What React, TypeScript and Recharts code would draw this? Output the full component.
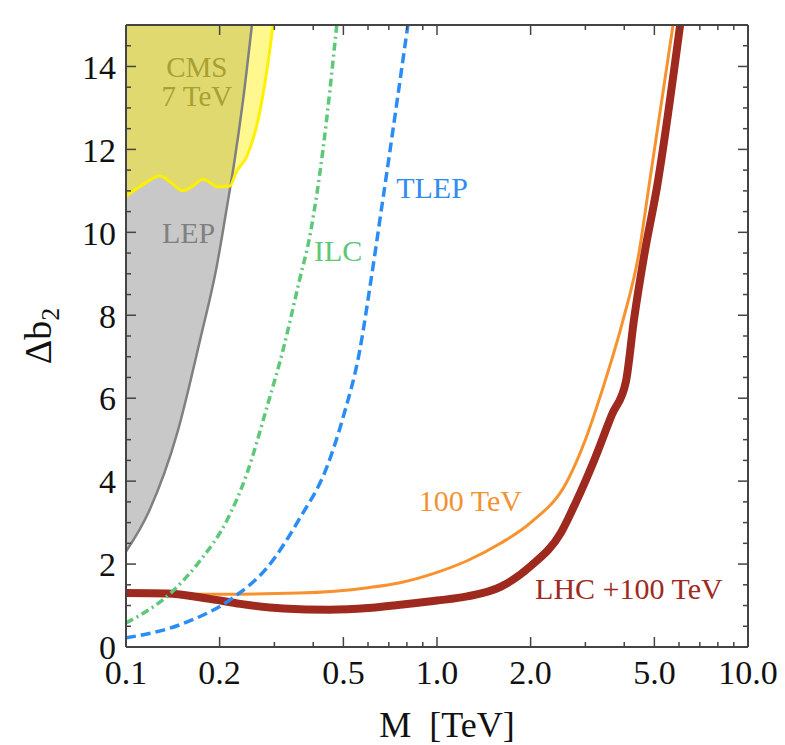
import React from "react"
import { ComposedChart, Line, Area, XAxis, YAxis, ReferenceDot } from "recharts"

const font = '"Liberation Serif", "DejaVu Serif", serif'

// axis ticks
const majorX = [0.1, 0.2, 0.5, 1, 2, 5, 10]
const minorX = [0.3, 0.4, 0.6, 0.7, 0.8, 0.9, 3, 4, 6, 7, 8, 9]
const majorY = [0, 2, 4, 6, 8, 10, 12, 14]
const minorY = [0.5, 1, 1.5, 2.5, 3, 3.5, 4.5, 5, 5.5, 6.5, 7, 7.5, 8.5, 9, 9.5, 10.5, 11, 11.5, 12.5, 13, 13.5, 14.5]

// LEP excluded region (boundary)
const lepM = [0.1, 0.119, 0.146, 0.173, 0.196, 0.211, 0.222, 0.238, 0.254]
const lepV = [2.3, 3.3, 5.15, 7.4, 9.2, 10.6, 11.6, 13.2, 15]

// CMS 7 TeV excluded region (boundary)
const cmsM = [0.1, 0.1134, 0.1286, 0.1395, 0.1524, 0.1642, 0.1768, 0.186, 0.196, 0.216, 0.226, 0.245, 0.27, 0.29, 0.297]
const cmsV = [10.87, 11.15, 11.36, 11.2, 11.0, 11.12, 11.28, 11.2, 11.1, 11.12, 11.45, 11.84, 12.95, 14.4, 15]

// ILC
const ilcM = [0.1, 0.142, 0.173, 0.211, 0.245, 0.284, 0.32, 0.36, 0.392, 0.43, 0.476]
const ilcV = [0.58, 1.36, 2.08, 3.05, 4.19, 5.79, 7.17, 8.8, 10.0, 12.0, 15]

// TLEP
const tlepM = [0.1, 0.152, 0.221, 0.284, 0.363, 0.442, 0.499, 0.565, 0.612, 0.67, 0.707, 0.806]
const tlepV = [0.22, 0.56, 1.19, 1.91, 3.12, 4.33, 5.54, 7.17, 8.8, 10.8, 12.0, 15]

// 100 TeV
const fccM = [0.1, 0.2, 0.36, 0.6, 0.76, 1.0, 1.25, 1.6, 2.0, 2.6, 3.0, 3.4, 3.97, 4.46, 4.8, 5.74]
const fccV = [1.28, 1.27, 1.3, 1.43, 1.55, 1.8, 2.08, 2.5, 3.0, 3.95, 5.0, 6.2, 7.9, 9.5, 11.1, 15]

// LHC + 100 TeV
const combM = [0.1, 0.135, 0.186, 0.233, 0.32, 0.45, 0.6, 0.76, 1.0, 1.25, 1.6, 2.0, 2.5, 2.8, 3.2, 3.65, 4.05, 4.3, 4.65, 5.1, 6.05]
const combV = [1.3, 1.29, 1.16, 1.04, 0.93, 0.9, 0.94, 1.02, 1.12, 1.22, 1.45, 1.95, 2.75, 3.5, 4.5, 5.6, 6.4, 7.9, 9.5, 11.1, 15]

const zip = (m: number[], v: number[]) => m.map((x, i) => ({ m: x, v: v[i] }))

const lepData = zip(lepM, lepV)
const cmsData = zip(cmsM, cmsV)
const ilcData = zip(ilcM, ilcV)
const tlepData = zip(tlepM, tlepV)
const fccData = zip(fccM, fccV)
const combData = zip(combM, combV)

const frame = "#444"

function BottomTick(props: any) {
  const { x, y, payload } = props
  const major = majorX.includes(payload.value)
  return (
    <g>
      <line x1={x} x2={x} y1={y} y2={y - (major ? 10 : 5)} stroke={frame} strokeWidth={1.5} />
      {major && (
        <text x={x} y={y + 37} textAnchor="middle" fontSize={34} fontFamily={font} fill="#111">
          {payload.value.toFixed(1)}
        </text>
      )}
    </g>
  )
}

function TopTick(props: any) {
  const { x, y, payload } = props
  const major = majorX.includes(payload.value)
  return <line x1={x} x2={x} y1={y} y2={y + (major ? 10 : 5)} stroke={frame} strokeWidth={1.5} />
}

function LeftTick(props: any) {
  const { x, y, payload } = props
  const major = majorY.includes(payload.value)
  return (
    <g>
      <line x1={x} x2={x + (major ? 10 : 5)} y1={y} y2={y} stroke={frame} strokeWidth={1.5} />
      {major && (
        <text x={x - 10} y={y} dy="0.36em" textAnchor="end" fontSize={34} fontFamily={font} fill="#111">
          {payload.value}
        </text>
      )}
    </g>
  )
}

function RightTick(props: any) {
  const { x, y, payload } = props
  const major = majorY.includes(payload.value)
  return <line x1={x} x2={x - (major ? 10 : 5)} y1={y} y2={y} stroke={frame} strokeWidth={1.5} />
}

// curve annotation, centred on its reference point
const tag = (text: string, fill: string, size = 30) => ({
  content: (p: any) => {
    const { x, y, width, height } = p.viewBox
    return (
      <text x={x + width / 2} y={y + height / 2} dy="0.35em" textAnchor="middle" fill={fill} fontSize={size} fontFamily={font}>
        {text}
      </text>
    )
  },
})

export default function App() {
  const xTicks = [...majorX, ...minorX].sort((a, b) => a - b)
  const yTicks = [...majorY, ...minorY].sort((a, b) => a - b)
  return (
    <div style={{ position: "absolute", left: 0, top: 0, width: 785, height: 745, background: "#fff" }}>
      <ComposedChart width={785} height={745} margin={{ top: 24, right: 36, bottom: 97, left: 125 }}>
        <XAxis
          xAxisId={0}
          dataKey="m"
          type="number"
          scale="log"
          domain={[0.1, 10]}
          allowDataOverflow
          ticks={xTicks}
          interval={0}
          height={1}
          tickSize={0}
          tickMargin={0}
          tick={<BottomTick />}
          axisLine={{ stroke: frame, strokeWidth: 2 }}
          label={{
            content: (p: any) => (
              <text x={p.viewBox.x + p.viewBox.width / 2 + 10} y={p.viewBox.y + 90} textAnchor="middle" fontSize={36} fontFamily={font} fill="#111">
                {"M\u00A0\u00A0[TeV]"}
              </text>
            ),
          }}
        />
        <XAxis
          xAxisId="top"
          orientation="top"
          dataKey="m"
          type="number"
          scale="log"
          domain={[0.1, 10]}
          allowDataOverflow
          ticks={xTicks}
          interval={0}
          height={1}
          tickSize={0}
          tickMargin={0}
          tick={<TopTick />}
          axisLine={{ stroke: frame, strokeWidth: 2 }}
        />
        <YAxis
          yAxisId={0}
          type="number"
          domain={[0, 15]}
          allowDataOverflow
          ticks={yTicks}
          interval={0}
          width={1}
          tickSize={0}
          tickMargin={0}
          tick={<LeftTick />}
          axisLine={{ stroke: frame, strokeWidth: 2 }}
          label={{
            content: (p: any) => {
              const cx = p.viewBox.x - 74
              const cy = p.viewBox.y + p.viewBox.height / 2
              return (
                <text x={cx} y={cy} transform={`rotate(-90 ${cx} ${cy})`} textAnchor="middle" fontSize={38} fontFamily={font} fill="#111">
                  Δb<tspan dy={8} fontSize={26}>2</tspan>
                </text>
              )
            },
          }}
        />
        <YAxis
          yAxisId="right"
          orientation="right"
          type="number"
          domain={[0, 15]}
          allowDataOverflow
          ticks={yTicks}
          interval={0}
          width={1}
          tickSize={0}
          tickMargin={0}
          tick={<RightTick />}
          axisLine={{ stroke: frame, strokeWidth: 2 }}
        />

        <Area data={lepData} dataKey="v" baseValue={15} type="monotone" fill="#C8C8C8" fillOpacity={1} stroke="none" isAnimationActive={false} />
        <Line data={lepData} dataKey="v" type="monotone" stroke="#808080" strokeWidth={2.5} dot={false} isAnimationActive={false} />
        <Area data={cmsData} dataKey="v" baseValue={15} type="monotone" fill="#FFEE00" fillOpacity={0.44} stroke="none" isAnimationActive={false} />
        <Line data={cmsData} dataKey="v" type="monotone" stroke="#FFF000" strokeWidth={3} dot={false} isAnimationActive={false} />

        <Line data={fccData} dataKey="v" type="monotone" stroke="#F7922E" strokeWidth={3} dot={false} isAnimationActive={false} />
        <Line data={combData} dataKey="v" type="monotone" stroke="#9E2A1F" strokeWidth={8} dot={false} isAnimationActive={false} />
        <Line data={ilcData} dataKey="v" type="monotone" stroke="#5CC878" strokeWidth={3.5} strokeDasharray="8 4 2 4" dot={false} isAnimationActive={false} />
        <Line data={tlepData} dataKey="v" type="monotone" stroke="#2A8CF5" strokeWidth={3.5} strokeDasharray="10 5" dot={false} isAnimationActive={false} />

        <ReferenceDot x={0.169} y={14.0} r={0} label={tag("CMS", "#A8A032", 29)} />
        <ReferenceDot x={0.169} y={13.3} r={0} label={tag("7 TeV", "#A8A032", 29)} />
        <ReferenceDot x={0.159} y={10.0} r={0} label={tag("LEP", "#808080")} />
        <ReferenceDot x={0.481} y={9.55} r={0} label={tag("ILC", "#5CC878")} />
        <ReferenceDot x={0.964} y={11.07} r={0} label={tag("TLEP", "#2F8DF0")} />
        <ReferenceDot x={1.28} y={3.54} r={0} label={tag("100 TeV", "#F39233")} />
        <ReferenceDot x={4.14} y={1.42} r={0} label={tag("LHC +100 TeV", "#9E2A22")} />
      </ComposedChart>
    </div>
  )
}
